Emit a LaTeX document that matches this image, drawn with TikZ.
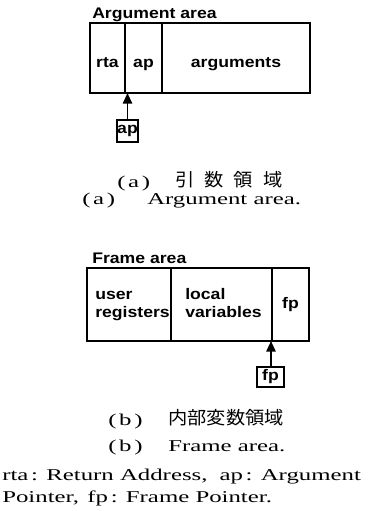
\documentclass[tikz,border=0pt]{standalone}
\usepackage{fontspec}
\usetikzlibrary{arrows.meta}
\setmainfont{Liberation Serif}
\newfontfamily\capfont[FakeStretch=1.5]{Liberation Serif}
\newfontfamily\labfont[FakeStretch=1.15]{Liberation Sans}
\newfontfamily\jpfont[FakeStretch=1.07]{Noto Sans CJK JP}
\begin{document}
\begin{tikzpicture}[x=0.75pt,y=-0.75pt,
  lab/.style={font=\labfont\bfseries\fontsize{11.5}{13.5}\selectfont,inner sep=0pt,align=left},
  cell/.style={draw,line width=1.3pt,inner sep=0pt},
  ptrbox/.style={draw,line width=1.3pt,inner sep=0pt,
    font=\labfont\bfseries\fontsize{11.5}{12.5}\selectfont},
  arr/.style={line width=1.3pt,-{Triangle[length=8pt,width=7pt]}},
  captxt/.style={font=\capfont\fontsize{12.4}{14}\selectfont,inner sep=0pt,anchor=base west},
  jcap/.style={font=\jpfont\fontsize{13.5}{15}\selectfont,inner sep=0pt,anchor=base west}]
\useasboundingbox (0,0) rectangle (383,511);
% (a) Argument area
\node[lab,anchor=base west] (ta) at (92,18) {Argument area};
\node[cell,minimum width=26.25pt,minimum height=52.5pt] (rta) at (107.5,58) {};
\node[cell,minimum width=27.75pt,minimum height=52.5pt] (ap) at (143.5,58) {};
\node[cell,minimum width=111pt,minimum height=52.5pt] (args) at (236,58) {};
\node[lab,anchor=base] (rtat) at (rta |- 0,67) {rta};
\node[lab,anchor=base] (apt) at (ap |- 0,67) {ap};
\node[lab,anchor=base] (argst) at (args |- 0,67) {arguments};
\node[ptrbox,minimum width=15.75pt,minimum height=16.5pt] (apptr) at (127.5,131) {ap};
\coordinate (atip) at (127.5,93);
\draw[arr] (apptr) -- (atip);
\node[captxt] (tga1) at (117,187) {(\kern2pt a\kern2pt)};
\node[jcap] (capa1) at (175,186) {引\hspace{7.5pt}数\hspace{7.5pt}領\hspace{7.5pt}域};
\node[captxt] (tga2) at (82,204) {(\kern2pt a\kern2pt)};
\node[captxt] (capa2) at (147,204) {Argument area.};
% (b) Frame area
\node[lab,anchor=base west] (tb) at (92,263) {Frame area};
\node[cell,minimum width=63pt,minimum height=54.75pt] (ureg) at (129,304.5) {};
\node[cell,minimum width=75.75pt,minimum height=54.75pt] (lvar) at (221.5,304.5) {};
\node[cell,minimum width=27.75pt,minimum height=54.75pt] (fp) at (290.5,304.5) {};
\node[lab,anchor=base west] (uregt) at (95,317) {user\\registers};
\node[lab,anchor=base west] (lvart) at (185,317) {local\\variables};
\node[lab,anchor=base] (fpt) at (fp |- 0,308) {fp};
\node[ptrbox,minimum width=20.25pt,minimum height=15pt] (fpptr) at (270.5,377) {fp};
\coordinate (btip) at (271,341);
\draw[arr] (fpptr.north -| btip) -- (btip);
\node[captxt] (tgb1) at (108,425) {(\kern2pt b\kern2pt)};
\node[jcap] (capb1) at (168,424) {内部変数領域};
\node[captxt] (tgb2) at (108,451) {(\kern2pt b\kern2pt)};
\node[captxt] (capb2) at (168,451) {Frame area.};
\node[captxt] (leg1) at (2,480) {rta\,: Return Address,\hspace{9pt}ap\,: Argument};
\node[captxt] (leg2) at (2,502) {Pointer,\enspace fp\,: Frame Pointer.};
\end{tikzpicture}
\end{document}
